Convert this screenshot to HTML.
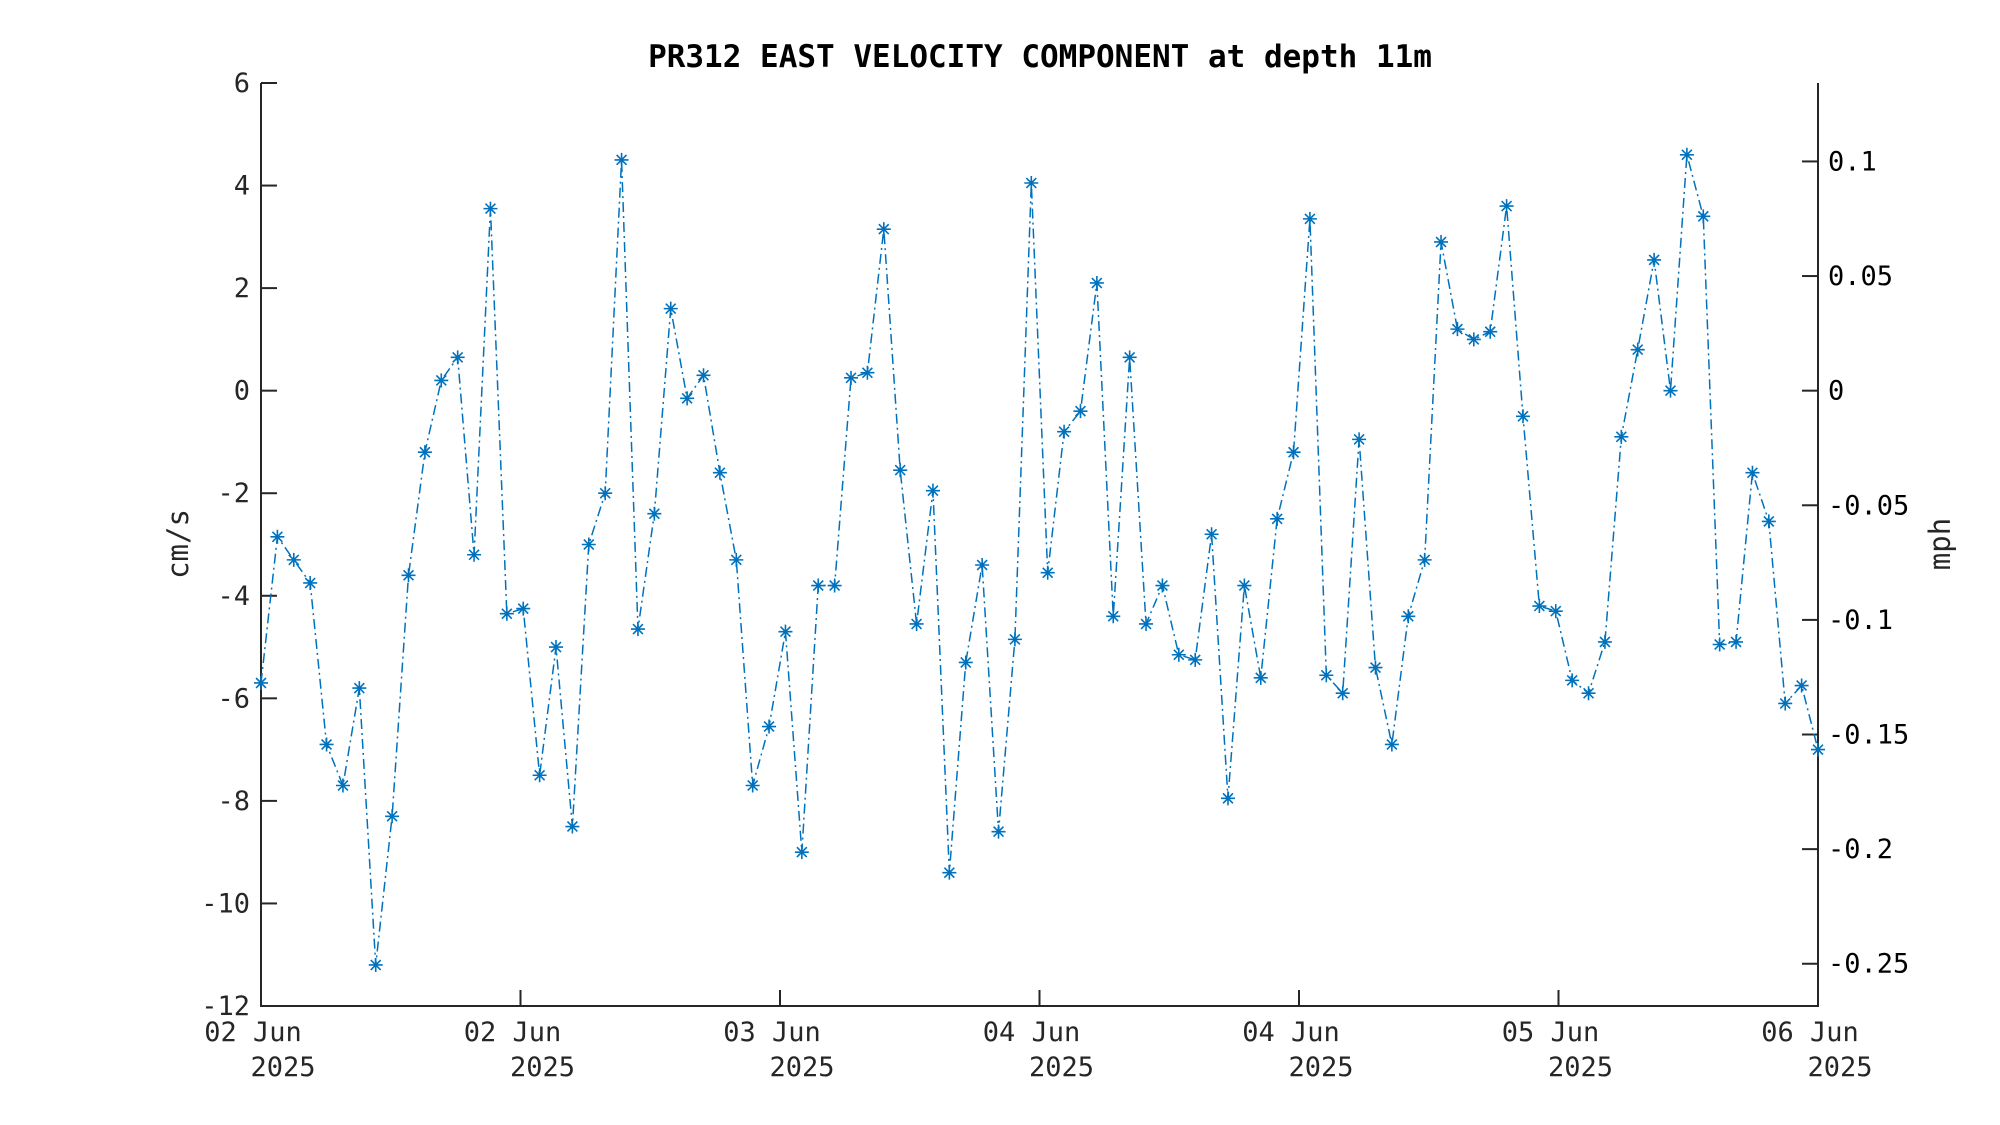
<!DOCTYPE html>
<html><head><meta charset="utf-8"><style>
html,body{margin:0;padding:0;background:#fff;}
svg{display:block;font-family:"DejaVu Sans Mono","Liberation Mono",monospace;}
</style></head><body>
<svg id="chart" width="2000" height="1125" viewBox="0 0 2000 1125" xmlns="http://www.w3.org/2000/svg">
<rect width="2000" height="1125" fill="#fff"/>
<text x="1040" y="67" text-anchor="middle" font-size="31" font-weight="bold" fill="#000">PR312 EAST VELOCITY COMPONENT at depth 11m</text>
<g id="axes"></g>
<g id="series"></g>
<text transform="translate(188,544) rotate(-90)" text-anchor="middle" font-size="29" fill="#262626">cm/s</text>
<text transform="translate(1950,544) rotate(-90)" text-anchor="middle" font-size="29" fill="#262626">mph</text>
</svg>
<script>
const values = [-5.7,-2.85,-3.3,-3.75,-6.9,-7.7,-5.8,-11.2,-8.3,-3.6,-1.2,0.2,0.65,-3.2,3.55,-4.35,-4.25,-7.5,-5.0,-8.5,-3.0,-2.0,4.5,-4.65,-2.4,1.6,-0.15,0.3,-1.6,-3.3,-7.7,-6.55,-4.7,-9.0,-3.8,-3.8,0.25,0.35,3.15,-1.55,-4.55,-1.95,-9.4,-5.3,-3.4,-8.6,-4.85,4.05,-3.55,-0.8,-0.4,2.1,-4.4,0.65,-4.55,-3.8,-5.15,-5.25,-2.8,-7.95,-3.8,-5.6,-2.5,-1.2,3.35,-5.55,-5.9,-0.95,-5.4,-6.9,-4.4,-3.3,2.9,1.2,1.0,1.15,3.6,-0.5,-4.2,-4.3,-5.65,-5.9,-4.9,-0.9,0.8,2.55,0.0,4.6,3.4,-4.95,-4.9,-1.6,-2.55,-6.1,-5.75,-7.0];
const yTicks = [6,4,2,0,-2,-4,-6,-8,-10,-12];
const yTickLabels = ["6","4","2","0","-2","-4","-6","-8","-10","-12"];
const mphTicks = [0.1,0.05,0,-0.05,-0.1,-0.15,-0.2,-0.25];
const mphTickLabels = ["0.1","0.05","0","-0.05","-0.1","-0.15","-0.2","-0.25"];
const xTickHours = [0,15.833,31.667,47.5,63.333,79.167,95];
const xTickDays = ["02 Jun","02 Jun","03 Jun","04 Jun","04 Jun","05 Jun","06 Jun"];
const xTickYears = ["2025","2025","2025","2025","2025","2025","2025"];

const NS="http://www.w3.org/2000/svg";
const L=261,R=1818,T=83,B=1006,yMin=-12,yMax=6,xMax=95;
const xs=h=>L+(R-L)*h/xMax;
const ys=v=>B-(B-T)*(v-yMin)/(yMax-yMin);
const ysMph=m=>ys(m*44.704);
function mk(tag,attrs,parent){const e=document.createElementNS(NS,tag);for(const k in attrs)e.setAttribute(k,attrs[k]);parent.appendChild(e);return e;}
const axes=document.getElementById('axes');
const ser=document.getElementById('series');
let e;
e=mk('path',{d:`M${L},${T}V${B}H${R}V${T}`,fill:'none',stroke:'#262626','stroke-width':2},axes);


yTicks.forEach((v,i)=>{
  const y=ys(v);
  let t=mk('line',{x1:L,x2:L+16,y1:y,y2:y,stroke:'#262626','stroke-width':2},axes);
  
  
  let tx=mk('text',{x:L-11,y:y+9,'text-anchor':'end','font-size':27,fill:'#262626'},axes);
  tx.textContent=yTickLabels[i];
  
  
});
mphTicks.forEach((m,i)=>{
  const y=ysMph(m);
  let t=mk('line',{x1:R-16,x2:R,y1:y,y2:y,stroke:'#262626','stroke-width':2},axes);
  
  
  let tx=mk('text',{x:R+10,y:y+9,'text-anchor':'start','font-size':27,fill:'#000'},axes);
  tx.textContent=mphTickLabels[i];
  
  
});
xTickHours.forEach((h,i)=>{
  const x=xs(h);
  let t=mk('line',{x1:x,x2:x,y1:B,y2:B-16,stroke:'#262626','stroke-width':2},axes);
  
  
  let a=mk('text',{x:x-8,y:1041,'text-anchor':'middle','font-size':27,fill:'#262626'},axes);
  a.textContent=xTickDays[i];
  
  
  let b=mk('text',{x:x+22,y:1076,'text-anchor':'middle','font-size':27,fill:'#262626'},axes);
  b.textContent=xTickYears[i];
  
  
});
const pts=values.map((v,i)=>[xs(i),ys(v)]);
e=mk('polyline',{points:pts.map(p=>p.join(',')).join(' '),fill:'none',stroke:'#0072BD','stroke-width':1.5,'stroke-dasharray':'10,4,2,4'},ser);


pts.forEach(([x,y])=>{
  const r=7,d=r*0.707;
  let m=mk('path',{d:`M${x-r},${y}H${x+r}M${x},${y-r}V${y+r}M${x-d},${y-d}L${x+d},${y+d}M${x-d},${y+d}L${x+d},${y-d}`,stroke:'#0072BD','stroke-width':1.6,fill:'none'},ser);
  
  
});
</script>
</body></html>
